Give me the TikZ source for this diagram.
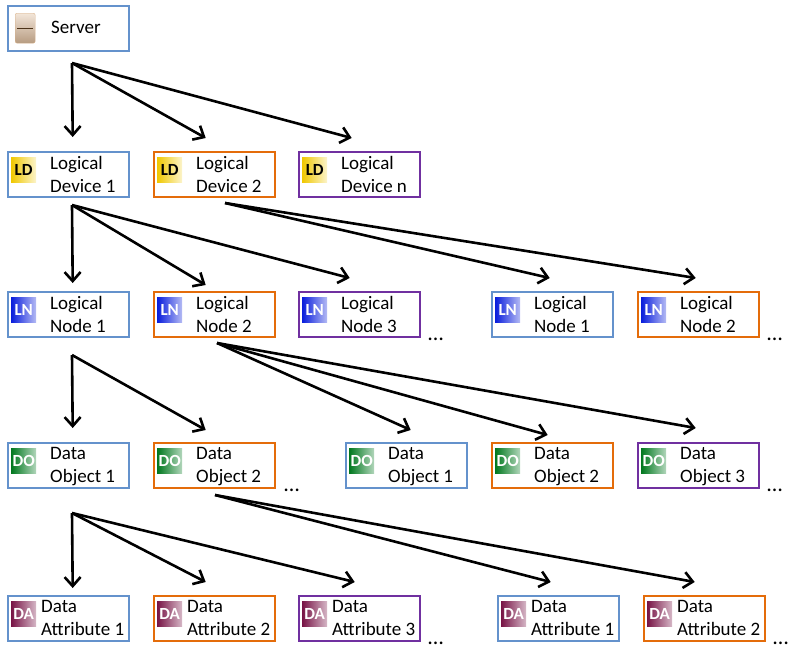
\documentclass[tikz,border=0pt]{standalone}
\usepackage{fontspec}
\setmainfont{Carlito}
\usetikzlibrary{arrows.meta,calc}

\definecolor{boxblue}{RGB}{100,146,204}
\definecolor{boxorange}{RGB}{228,108,10}
\definecolor{boxpurple}{RGB}{112,48,160}
\definecolor{ldyellow}{RGB}{240,200,0}
\definecolor{lnblue}{RGB}{10,30,220}
\definecolor{dogreen}{RGB}{0,120,30}
\definecolor{damaroon}{RGB}{120,20,70}

\tikzset{
  box/.style = {draw, line width=2.4pt, minimum width=121pt, minimum height=45pt,
                anchor=north west, inner sep=0pt},
  label/.style = {anchor=north west, align=left, inner sep=0pt,
                  font=\fontsize{19}{23}\selectfont},
  icon/.style = {anchor=north west, minimum size=25pt, inner sep=0pt,
                 font=\fontsize{17}{17}\selectfont\bfseries},
  arr/.style = {line width=2.6pt, -{Straight Barb[length=9pt,width=16pt,line width=2.6pt]}},
  dots/.style = {font=\fontsize{22}{22}\selectfont, anchor=south west, inner sep=0pt}
}

\begin{document}
\begin{tikzpicture}[x=1pt, y=-1pt]
\useasboundingbox (0,0) rectangle (805,653);

% server
\node[box, draw=boxblue] (srv) at (7,5) {};
\node[anchor=north west, minimum width=20pt, minimum height=30pt, inner sep=0pt,
      rounded corners=2pt, top color=brown!20, bottom color=brown!70!black!60, draw=brown!60]
  (srvi) at (15,13) {};
\draw[brown!40!black, line width=0.8pt] ($(srvi.north west)+(2,15)$) -- ($(srvi.north east)+(-2,15)$);
\node[label] (srvt) at (51,21) {Server};

% logical devices
\foreach \nm/\x/\c/\t in {ld1/7/boxblue/1, ld2/153/boxorange/2, ld3/298/boxpurple/n}{
  \node[box, draw=\c] (\nm) at (\x,151) {};
  \node[icon, left color=ldyellow, right color=white!80!ldyellow] (\nm i) at (\x+4,157) {LD};
  \node[label] at (\x+43,156) {Logical\\Device \t};
}

% logical nodes
\foreach \nm/\x/\c/\t in {ln1/7/boxblue/1, ln2/153/boxorange/2, ln3/298/boxpurple/3,
                         ln4/491/boxblue/1, ln5/637/boxorange/2}{
  \node[box, draw=\c] (\nm) at (\x,291) {};
  \node[icon, left color=lnblue, right color=white!70!lnblue, text=white] (\nm i) at (\x+4,297) {LN};
  \node[label] at (\x+43,296) {Logical\\Node \t};
}
\node[dots] (lndots1) at (428,341) {\dots};
\node[dots] (lndots2) at (767,341) {\dots};

% data objects
\foreach \nm/\x/\c/\t in {do1/7/boxblue/1, do2/153/boxorange/2, do3/345/boxblue/1,
                         do4/491/boxorange/2, do5/637/boxpurple/3}{
  \node[box, draw=\c] (\nm) at (\x,442) {};
  \node[icon, left color=dogreen, right color=white!70!dogreen, text=white] (\nm i) at (\x+4,448) {DO};
  \node[label] at (\x+43,447) {Data\\Object \t};
}
\node[dots] (dodots1) at (284,492) {\dots};
\node[dots] (dodots2) at (767,492) {\dots};

% data attributes
\foreach \nm/\x/\c/\t in {da1/7/boxblue/1, da2/153/boxorange/2, da3/298/boxpurple/3,
                         da4/497/boxblue/1, da5/643/boxorange/2}{
  \node[box, draw=\c] (\nm) at (\x,595) {};
  \node[icon, left color=damaroon, right color=white!70!damaroon, text=white] (\nm i) at (\x+4,601) {DA};
  \node[label] at (\x+34,600) {Data\\Attribute \t};
}
\node[dots] (dadots1) at (428,645) {\dots};
\node[dots] (dadots2) at (773,645) {\dots};

% connectors
\coordinate (s0) at (72,63);
\draw[arr] (s0) -- ($(ld1.north)+(4,-14)$);
\draw[arr] (s0) -- ($(ld2.north)+(-9,-13)$);
\draw[arr] (s0) -- ($(ld3.north)+(-8,-13)$);

\coordinate (l1) at (72,205);
\draw[arr] (l1) -- ($(ln1.north)+(4,-8)$);
\draw[arr] (l1) -- ($(ln2.north)+(-9,-6)$);
\draw[arr] (l1) -- ($(ln3.north)+(-10,-13)$);
\coordinate (l2) at (225,203);
\draw[arr] (l2) -- ($(ln4.north)+(-3,-13)$);
\draw[arr] (l2) -- ($(ln5.north)+(-3,-13)$);

\coordinate (n1) at (72,355);
\draw[arr] (n1) -- ($(do1.north)+(4,-14)$);
\draw[arr] (n1) -- ($(do2.north)+(-9,-12)$);
\coordinate (n2) at (217,343);
\draw[arr] (n2) -- ($(do3.north)+(4,-12)$);
\draw[arr] (n2) -- ($(do4.north)+(-5,-7)$);
\draw[arr] (n2) -- ($(do5.north)+(-3,-14)$);

\coordinate (o1) at (72,513);
\draw[arr] (o1) -- ($(da1.north)+(4,-7)$);
\draw[arr] (o1) -- ($(da2.north)+(-9,-13)$);
\draw[arr] (o1) -- ($(da3.north)+(-5,-13)$);
\coordinate (o2) at (215,495);
\draw[arr] (o2) -- ($(da4.north)+(-8,-13)$);
\draw[arr] (o2) -- ($(da5.north)+(-10,-13)$);
\end{tikzpicture}
\end{document}
